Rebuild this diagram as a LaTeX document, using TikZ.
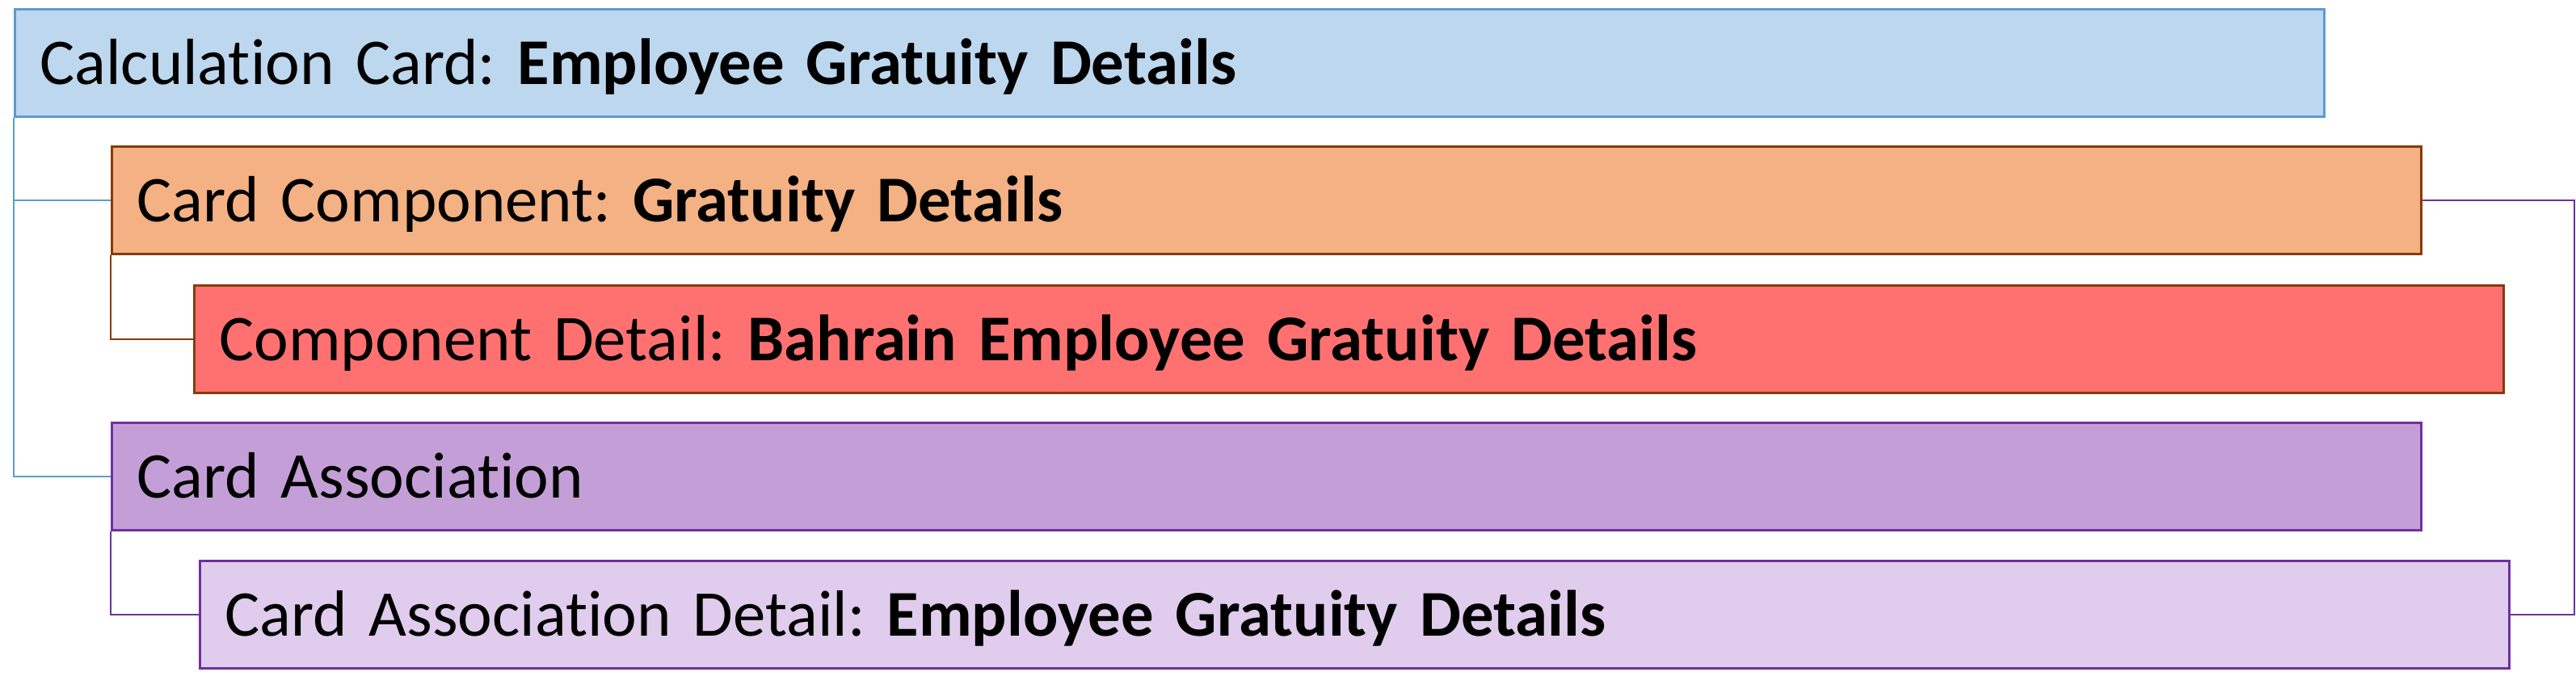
\documentclass[tikz,border=0pt]{standalone}
\usepackage{fontspec}
\setmainfont[Ligatures=NoCommon]{Carlito}
\usepackage{xcolor}
\usepackage{tikz}
\definecolor{calcfill}{HTML}{BDD7EE}
\definecolor{calcline}{HTML}{5B9BD5}
\definecolor{compfill}{HTML}{F4B183}
\definecolor{compline}{HTML}{843C0C}
\definecolor{detailfill}{HTML}{FF7171}
\definecolor{assocfill}{HTML}{C49FD7}
\definecolor{assocdetfill}{HTML}{E0CCEC}
\definecolor{assocline}{HTML}{7030A0}
\tikzset{
    card/.style={draw, line width=0.85pt, anchor=north west, text width=27.96cm,
        inner xsep=0.31cm, minimum height=1.33cm, align=left,
        text height=15pt, text depth=0pt, font=\fontsize{23}{28}\selectfont\frenchspacing},
    link/.style={line width=0.45pt}
}

\begin{document}
\begin{tikzpicture}
                \useasboundingbox (0,0) rectangle (31.88,-8.58);
                \node[card, fill=calcfill, draw=calcline] (calc) at (0.17,-0.10) {Calculation Card: \textbf{Employee Gratuity Details}};
                \node[card, fill=compfill, draw=compline] (comp) at (1.37,-1.80) {Card Component: \textbf{Gratuity Details}};
                \node[card, fill=detailfill, draw=compline] (detail) at (2.39,-3.52) {Component Detail: \textbf{Bahrain Employee Gratuity Details}};
                \node[card, fill=assocfill, draw=assocline] (assoc) at (1.37,-5.22) {Card Association};
                \node[card, fill=assocdetfill, draw=assocline] (assocdet) at (2.46,-6.93) {Card Association Detail: \textbf{Employee Gratuity Details}};
                \coordinate (rail) at (31.86,0);
                \draw[link, calcline] (calc.south west) |- (comp.west);
                \draw[link, calcline] (calc.south west) |- (assoc.west);
                \draw[link, compline] (comp.south west) |- (detail.west);
                \draw[link, assocline] (assoc.south west) |- (assocdet.west);
                \draw[link, assocline] (comp.east) -- (comp.east -| rail) -- (assocdet.east -| rail) -- (assocdet.east);
            \end{tikzpicture}
\end{document}
